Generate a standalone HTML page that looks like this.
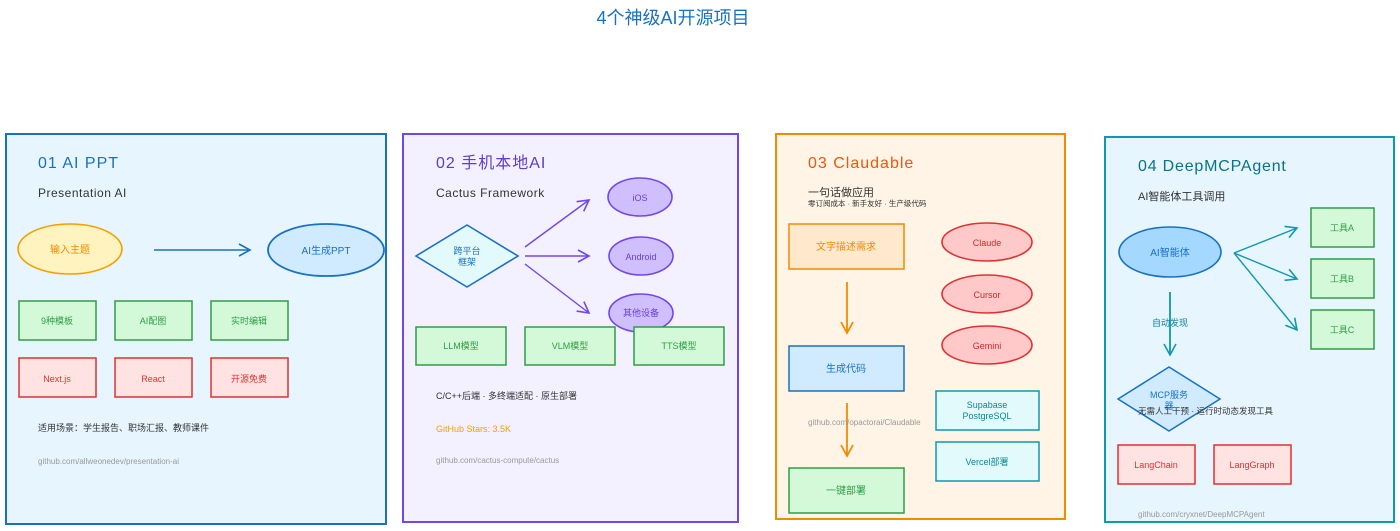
<!DOCTYPE html>
<html><head><meta charset="utf-8"><style>
html,body{margin:0;padding:0;background:#fff;}
svg{display:block;font-family:"Liberation Sans","Noto Sans CJK SC",sans-serif;}
</style></head><body>
<svg width="1400" height="531" viewBox="0 0 1400 531" xmlns="http://www.w3.org/2000/svg">
<defs>
<marker id="ab" markerWidth="14" markerHeight="14" refX="12" refY="7" orient="auto" markerUnits="userSpaceOnUse"><path d="M1,1 L12,7 L1,13" fill="none" stroke="#1971c2" stroke-width="1.6"/></marker>
<marker id="ap" markerWidth="14" markerHeight="14" refX="12" refY="7" orient="auto" markerUnits="userSpaceOnUse"><path d="M1,1 L12,7 L1,13" fill="none" stroke="#7048e8" stroke-width="1.6"/></marker>
<marker id="ao" markerWidth="14" markerHeight="14" refX="12" refY="7" orient="auto" markerUnits="userSpaceOnUse"><path d="M1,1 L12,7 L1,13" fill="none" stroke="#f08c00" stroke-width="1.8"/></marker>
<marker id="at" markerWidth="14" markerHeight="14" refX="12" refY="7" orient="auto" markerUnits="userSpaceOnUse"><path d="M1,1 L12,7 L1,13" fill="none" stroke="#1098ad" stroke-width="1.6"/></marker>
</defs>
<text x="673" y="24" text-anchor="middle" font-size="18" fill="#1971c2">4个神级AI开源项目</text>

<!-- Panel 1 -->
<rect x="6" y="134" width="380" height="390" fill="#e7f5ff" stroke="#1971c2" stroke-width="2"/>
<text x="38" y="168" font-size="16" fill="#1971c2" letter-spacing="1">01 AI PPT</text>
<text x="38" y="197" font-size="12" fill="#333" letter-spacing="0.5">Presentation AI</text>
<ellipse cx="70" cy="249" rx="52" ry="25" fill="#fff3bf" stroke="#f59f00" stroke-width="1.6"/>
<text x="70" y="253" text-anchor="middle" font-size="10" fill="#f08c00">输入主题</text>
<line x1="154" y1="250" x2="250" y2="250" stroke="#1971c2" stroke-width="1.6" marker-end="url(#ab)"/>
<ellipse cx="326" cy="250" rx="58" ry="26" fill="#d0ebff" stroke="#1971c2" stroke-width="1.8"/>
<text x="326" y="254" text-anchor="middle" font-size="10" fill="#1971c2">AI生成PPT</text>
<g stroke="#2f9e44" stroke-width="1.5" fill="#d3f9d8">
<rect x="19" y="301" width="77" height="39"/><rect x="115" y="301" width="77" height="39"/><rect x="211" y="301" width="77" height="39"/></g>
<g font-size="9" fill="#2f9e44" text-anchor="middle"><text x="57" y="324">9种模板</text><text x="153" y="324">AI配图</text><text x="249" y="324">实时编辑</text></g>
<g stroke="#e03131" stroke-width="1.5" fill="#ffe3e3">
<rect x="19" y="358" width="77" height="39"/><rect x="115" y="358" width="77" height="39"/><rect x="211" y="358" width="77" height="39"/></g>
<g font-size="9" fill="#e03131" text-anchor="middle"><text x="57" y="382">Next.js</text><text x="153" y="382">React</text><text x="249" y="382">开源免费</text></g>
<text x="38" y="431" font-size="9" fill="#333">适用场景：学生报告、职场汇报、教师课件</text>
<text x="38" y="464" font-size="8" fill="#999">github.com/allweonedev/presentation-ai</text>

<!-- Panel 2 -->
<rect x="403" y="134" width="335" height="388" fill="#f3f0ff" stroke="#7048e8" stroke-width="2"/>
<text x="436" y="168" font-size="16" fill="#5f3dc4" letter-spacing="1">02 手机本地AI</text>
<text x="436" y="197" font-size="12" fill="#333" letter-spacing="0.5">Cactus Framework</text>
<polygon points="416,256 467,225 518,256 467,287" fill="#e3fafc" stroke="#1971c2" stroke-width="1.6"/>
<text x="467" y="254" text-anchor="middle" font-size="9" fill="#1971c2">跨平台</text>
<text x="467" y="265" text-anchor="middle" font-size="9" fill="#1971c2">框架</text>
<g stroke="#7048e8" stroke-width="1.4" fill="none">
<line x1="525" y1="247" x2="589" y2="200" marker-end="url(#ap)"/>
<line x1="525" y1="256" x2="589" y2="256" marker-end="url(#ap)"/>
<line x1="525" y1="264" x2="589" y2="313" marker-end="url(#ap)"/></g>
<g fill="#d0bfff" stroke="#7048e8" stroke-width="1.6">
<ellipse cx="640" cy="197" rx="32" ry="19"/><ellipse cx="641" cy="256" rx="32" ry="19"/><ellipse cx="641" cy="313" rx="32" ry="19"/></g>
<g font-size="9" fill="#6741d9" text-anchor="middle"><text x="640" y="201">iOS</text><text x="641" y="260">Android</text><text x="641" y="316">其他设备</text></g>
<g stroke="#2f9e44" stroke-width="1.5" fill="#d3f9d8">
<rect x="416" y="327" width="90" height="38"/><rect x="525" y="327" width="90" height="38"/><rect x="634" y="327" width="90" height="38"/></g>
<g font-size="9" fill="#2f9e44" text-anchor="middle"><text x="461" y="349">LLM模型</text><text x="570" y="349">VLM模型</text><text x="679" y="349">TTS模型</text></g>
<text x="436" y="399" font-size="9" fill="#333">C/C++后端 · 多终端适配 · 原生部署</text>
<text x="436" y="432" font-size="9" fill="#f59f00">GitHub Stars: 3.5K</text>
<text x="436" y="463" font-size="8" fill="#999">github.com/cactus-compute/cactus</text>

<!-- Panel 3 -->
<rect x="776" y="134" width="289" height="385" fill="#fff4e6" stroke="#f08c00" stroke-width="2"/>
<text x="808" y="168" font-size="16" fill="#e8590c" letter-spacing="1">03 Claudable</text>
<text x="808" y="196" font-size="11" fill="#333">一句话做应用</text>
<text x="808" y="206" font-size="7.5" fill="#333">零订阅成本 · 新手友好 · 生产级代码</text>
<rect x="789" y="224" width="115" height="45" fill="#ffe8cc" stroke="#f08c00" stroke-width="1.5"/>
<text x="846" y="250" text-anchor="middle" font-size="10" fill="#f08c00">文字描述需求</text>
<line x1="847" y1="282" x2="847" y2="333" stroke="#f08c00" stroke-width="1.8" marker-end="url(#ao)"/>
<rect x="789" y="346" width="115" height="45" fill="#d0ebff" stroke="#1971c2" stroke-width="1.5"/>
<text x="846" y="372" text-anchor="middle" font-size="10" fill="#1971c2">生成代码</text>
<line x1="847" y1="403" x2="847" y2="456" stroke="#f08c00" stroke-width="1.8" marker-end="url(#ao)"/>
<rect x="789" y="468" width="115" height="45" fill="#d3f9d8" stroke="#2f9e44" stroke-width="1.5"/>
<text x="846" y="494" text-anchor="middle" font-size="10" fill="#2f9e44">一键部署</text>
<text x="808" y="425" font-size="8" fill="#999">github.com/opactorai/Claudable</text>
<g fill="#ffc9c9" stroke="#e03131" stroke-width="1.6">
<ellipse cx="987" cy="242" rx="45" ry="19"/><ellipse cx="987" cy="294" rx="45" ry="19"/><ellipse cx="987" cy="345" rx="45" ry="19"/></g>
<g font-size="9" fill="#c92a2a" text-anchor="middle"><text x="987" y="246">Claude</text><text x="987" y="298">Cursor</text><text x="987" y="349">Gemini</text></g>
<g fill="#e3fafc" stroke="#1098ad" stroke-width="1.5"><rect x="936" y="391" width="103" height="39"/><rect x="936" y="442" width="103" height="39"/></g>
<g font-size="9" fill="#0c8599" text-anchor="middle"><text x="987" y="408">Supabase</text><text x="987" y="419">PostgreSQL</text><text x="987" y="465">Vercel部署</text></g>

<!-- Panel 4 -->
<rect x="1105" y="137" width="289" height="385" fill="#e7f5ff" stroke="#1098ad" stroke-width="2"/>
<text x="1138" y="171" font-size="16" fill="#0b7285" letter-spacing="0.8">04 DeepMCPAgent</text>
<text x="1138" y="200" font-size="11" fill="#333">AI智能体工具调用</text>
<ellipse cx="1170" cy="252" rx="51" ry="25" fill="#a5d8ff" stroke="#1971c2" stroke-width="1.6"/>
<text x="1170" y="256" text-anchor="middle" font-size="10" fill="#1971c2">AI智能体</text>
<g stroke="#1098ad" stroke-width="1.4" fill="none">
<line x1="1234" y1="253" x2="1297" y2="228" marker-end="url(#at)"/>
<line x1="1234" y1="253" x2="1297" y2="279" marker-end="url(#at)"/>
<line x1="1234" y1="253" x2="1297" y2="330" marker-end="url(#at)"/></g>
<g stroke="#2f9e44" stroke-width="1.5" fill="#d3f9d8">
<rect x="1311" y="208" width="63" height="39"/><rect x="1311" y="259" width="63" height="39"/><rect x="1311" y="310" width="63" height="39"/></g>
<g font-size="9" fill="#2f9e44" text-anchor="middle"><text x="1342" y="231">工具A</text><text x="1342" y="282">工具B</text><text x="1342" y="333">工具C</text></g>
<line x1="1170" y1="292" x2="1170" y2="355" stroke="#1098ad" stroke-width="1.8" marker-end="url(#at)"/>
<text x="1170" y="326" text-anchor="middle" font-size="9" fill="#0c8599">自动发现</text>
<polygon points="1118,399 1169,367 1220,399 1169,431" fill="#d0ebff" stroke="#1971c2" stroke-width="1.5"/>
<text x="1169" y="398" text-anchor="middle" font-size="9" fill="#1971c2">MCP服务</text>
<text x="1169" y="409" text-anchor="middle" font-size="9" fill="#1971c2">器</text>
<text x="1138" y="414" font-size="8.5" fill="#333">无需人工干预 · 运行时动态发现工具</text>
<g stroke="#e03131" stroke-width="1.5" fill="#ffe3e3"><rect x="1118" y="445" width="77" height="39"/><rect x="1214" y="445" width="77" height="39"/></g>
<g font-size="9" fill="#e03131" text-anchor="middle"><text x="1156" y="468">LangChain</text><text x="1252" y="468">LangGraph</text></g>
<text x="1138" y="517" font-size="8" fill="#999">github.com/cryxnet/DeepMCPAgent</text>
</svg>
</body></html>
